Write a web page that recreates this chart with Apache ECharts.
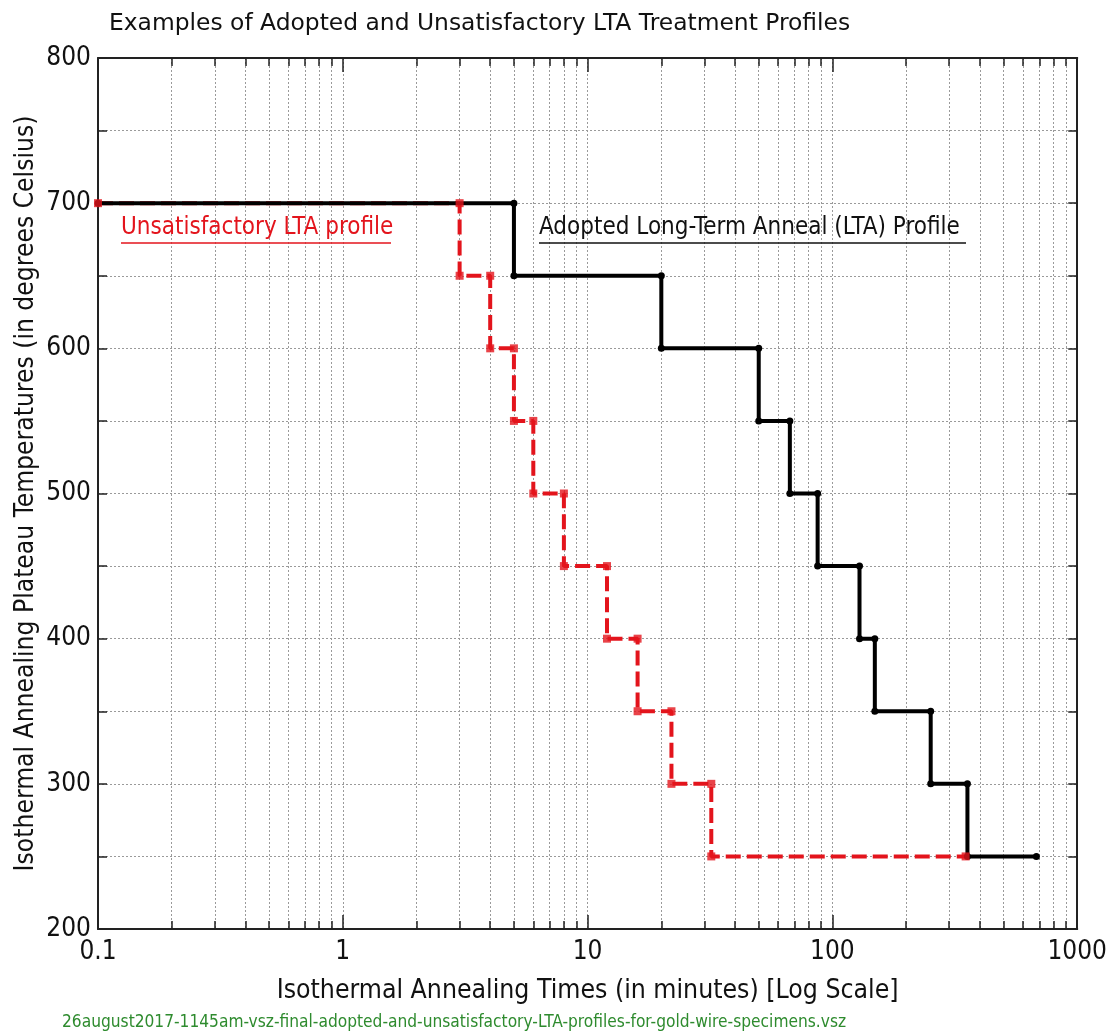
<!DOCTYPE html>
<html>
<head>
<meta charset="utf-8">
<script src="https://cdn.jsdelivr.net/npm/echarts@6/dist/echarts.min.js"></script>
<style>
  html, body { margin: 0; padding: 0; background: #fff; overflow: hidden; }
  #chart { width: 1110px; height: 1036px; }
</style>
</head>
<body>
<div id="chart"></div>
<script>
// Plateau boundaries (minutes) and plateau temperatures (°C).
// Plateau i runs from times[i] to times[i + 1] at temps[i].
const adoptedTimes = [0.1, 5, 20, 50, 67, 87, 129, 149, 252, 356, 681];
const adoptedTemps = [700, 650, 600, 550, 500, 450, 400, 350, 300, 250];

const unsatTimes = [0.1, 3, 4, 5, 6, 8, 12, 16, 22, 32, 350];
const unsatTemps = [700, 650, 600, 550, 500, 450, 400, 350, 300, 250];

const xTickLabels = ['0.1', '1', '10', '100', '1000'];

const titleText = 'Examples of Adopted and Unsatisfactory LTA Treatment Profiles';
const xName = 'Isothermal Annealing Times (in minutes) [Log Scale]';
const yName = 'Isothermal Annealing Plateau Temperatures (in degrees Celsius)';
const footerText = '26august2017-1145am-vsz-final-adopted-and-unsatisfactory-LTA-profiles-for-gold-wire-specimens.vsz';
const adoptedLabel = 'Adopted Long-Term Anneal (LTA) Profile';
const unsatLabel = 'Unsatisfactory LTA profile';

function stepPoints(times, temps) {
  const pts = [];
  for (let i = 0; i < temps.length; i++) {
    pts.push([times[i], temps[i]]);
    pts.push([times[i + 1], temps[i]]);
  }
  return pts;
}

const FONT = '"DejaVu Sans Condensed", "DejaVu Sans", sans-serif';
const FONT_WIDE = '"DejaVu Sans", sans-serif';
const RED = '#e3141c';

const chart = echarts.init(document.getElementById('chart'));

const gridLine = { show: true, lineStyle: { color: '#9a9a9a', width: 1, type: [2, 2] } };
const frame = { show: true, lineStyle: { color: '#222', width: 2 } };
const tickStyle = { color: '#222', width: 1.5 };

const option = {
  animation: false,
  backgroundColor: '#fff',
  title: {
    text: titleText,
    left: 104, top: 7,
    textStyle: { fontFamily: FONT_WIDE, fontSize: 23.4, fontWeight: 'normal', color: '#111' }
  },
  grid: { left: 98, right: 28, top: 58, bottom: 107 },
  xAxis: [{
    type: 'log', logBase: 10, min: 0.1, max: 1000,
    name: xName, nameLocation: 'middle', nameGap: 49,
    nameTextStyle: { fontFamily: FONT, fontSize: 26.4, color: '#111' },
    axisLine: frame,
    axisTick: { show: true, inside: true, length: 14, lineStyle: tickStyle },
    minorTick: { show: true, splitNumber: 9, length: 8, lineStyle: tickStyle },
    axisLabel: {
      fontFamily: FONT, fontSize: 26, color: '#111', margin: 10,
      formatter: function (v) {
        const i = Math.round(Math.log10(v)) + 1;
        return xTickLabels[i] !== undefined ? xTickLabels[i] : '';
      }
    },
    splitLine: gridLine,
    minorSplitLine: gridLine
  }, {
    type: 'log', logBase: 10, min: 0.1, max: 1000, position: 'top',
    axisLine: frame,
    axisTick: { show: true, inside: true, length: 14, lineStyle: tickStyle },
    minorTick: { show: true, splitNumber: 9, length: 8, lineStyle: tickStyle },
    axisLabel: { show: false },
    splitLine: { show: false }
  }],
  yAxis: [{
    type: 'value', min: 200, max: 800, interval: 100,
    name: yName, nameLocation: 'middle', nameGap: 59, nameRotate: 90,
    nameMoveOverlap: false,
    nameTextStyle: { fontFamily: FONT, fontSize: 26.2, color: '#111' },
    axisLine: frame,
    axisTick: { show: true, inside: true, length: 9, lineStyle: tickStyle },
    minorTick: { show: true, splitNumber: 2, length: 9, lineStyle: tickStyle },
    axisLabel: { fontFamily: FONT, fontSize: 26, color: '#111', margin: 7 },
    splitLine: gridLine,
    minorSplitLine: gridLine
  }, {
    type: 'value', min: 200, max: 800, interval: 100, position: 'right',
    axisLine: frame,
    axisTick: { show: true, inside: true, length: 9, lineStyle: tickStyle },
    minorTick: { show: true, splitNumber: 2, length: 9, lineStyle: tickStyle },
    axisLabel: { show: false },
    splitLine: { show: false }
  }],
  series: [
    {
      name: unsatLabel, type: 'line', z: 2,
      data: stepPoints(unsatTimes, unsatTemps),
      showSymbol: false,
      lineStyle: { color: RED, width: 4, type: [15, 6] },
      itemStyle: { color: RED }
    },
    {
      name: adoptedLabel, type: 'line', z: 3,
      data: stepPoints(adoptedTimes, adoptedTemps),
      symbol: 'circle', symbolSize: 7,
      lineStyle: { color: '#000', width: 4 },
      itemStyle: { color: '#000' }
    },
    {
      // red corner markers drawn above both profiles
      type: 'scatter', z: 4,
      data: stepPoints(unsatTimes, unsatTemps),
      symbol: 'rect', symbolSize: 8,
      itemStyle: { color: RED }
    }
  ],
  graphic: [
    { type: 'text', left: 121, top: 216, z: 10,
      style: { text: unsatLabel, fill: RED, font: '24px ' + FONT } },
    { type: 'line', z: 10, shape: { x1: 121, y1: 243, x2: 391, y2: 243 },
      style: { stroke: RED, lineWidth: 1.5 } },
    { type: 'text', left: 539, top: 216, z: 10,
      style: { text: adoptedLabel, fill: '#111', font: '24px ' + FONT } },
    { type: 'line', z: 10, shape: { x1: 539, y1: 243, x2: 966, y2: 243 },
      style: { stroke: '#111', lineWidth: 1.5 } },
    { type: 'text', left: 62, top: 1014, z: 10,
      style: { text: footerText, fill: '#2e8b2e', font: '17.2px ' + FONT } }
  ]
};

chart.setOption(option);
</script>
</body>
</html>
